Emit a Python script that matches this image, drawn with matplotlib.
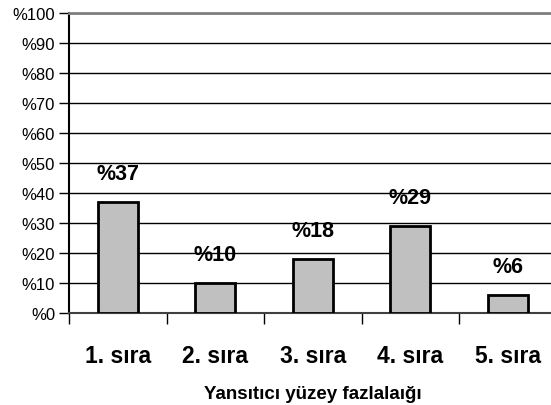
import matplotlib
matplotlib.use("Agg")
import matplotlib.pyplot as plt
import numpy as np

categories = ["1. sıra", "2. sıra", "3. sıra", "4. sıra", "5. sıra"]
values = [37, 10, 18, 29, 6]
y_ticks = [0, 10, 20, 30, 40, 50, 60, 70, 80, 90, 100]
y_labels = ["%" + str(v) for v in y_ticks]
x_title = "Yansıtıcı yüzey fazlalaığı"

plt.rcParams['font.family'] = ['Liberation Sans', 'DejaVu Sans']

fig = plt.figure(figsize=(5.51, 4.06), dpi=100)
ax = fig.add_axes([69/551, 1 - 314/406, 487.5/551, 300/406])

x = np.arange(len(categories))
ax.bar(x, values, width=0.41, color="#C0C0C0", edgecolor="black", linewidth=2, zorder=3)

for xi, v in zip(x, values):
    ax.text(xi, v + 6, "%" + str(v), ha="center", va="bottom", fontsize=15.5,
            fontweight="bold", zorder=4)

ax.set_xlim(-0.5, 4.5)
ax.set_ylim(0, 100)
ax.set_yticks(y_ticks)
ax.set_yticklabels(y_labels, fontsize=12)
ax.yaxis.grid(True, color="black", linewidth=1, zorder=0)
ax.set_axisbelow(True)

ax.set_xticks(x)
ax.set_xticklabels(categories, fontsize=16.5, fontweight="bold")
ax.tick_params(axis="x", length=0, pad=22)
ax.set_xticks(np.arange(-0.5, 5, 1), minor=True)
ax.tick_params(axis="x", which="minor", length=8, width=1, color="black", direction="out")
ax.tick_params(axis="y", length=7, width=1, direction="out", pad=3)

ax.set_xlabel(x_title, fontsize=13.5, fontweight="bold", labelpad=13)

ax.spines["right"].set_visible(False)
ax.spines["left"].set_color("black")
ax.spines["left"].set_linewidth(1.5)
ax.spines["bottom"].set_color("#404040")
ax.spines["bottom"].set_linewidth(1.5)
ax.spines["top"].set_color("#808080")
ax.spines["top"].set_linewidth(2)

fig.savefig("out.png", dpi=100)
